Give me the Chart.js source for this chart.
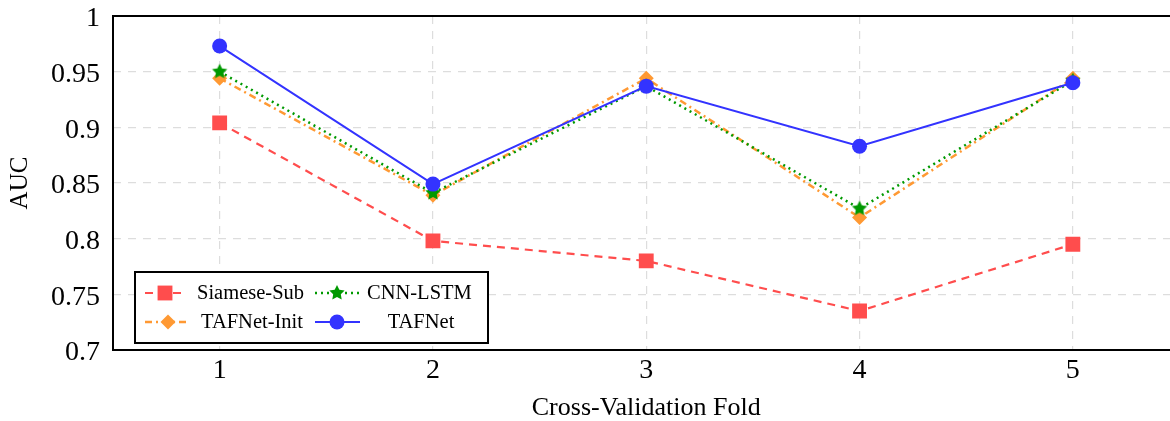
<!DOCTYPE html>
<html>
<head>
<meta charset="utf-8">
<script src="https://cdn.jsdelivr.net/npm/chart.js@4"></script>
<style>
  html, body { margin: 0; padding: 0; background: #fff; overflow: hidden; }
  #wrap { width: 1170px; height: 421px; overflow: hidden; }
</style>
</head>
<body>
<div id="wrap"><canvas id="cv" width="1190" height="421"></canvas></div>
<script>
// data
const folds = [1, 2, 3, 4, 5];
const siameseSub = [0.904, 0.798, 0.780, 0.735, 0.795];
const cnnLstm = [0.950, 0.841, 0.937, 0.827, 0.942];
const tafnetInit = [0.944, 0.839, 0.944, 0.819, 0.944];
const tafnet = [0.973, 0.849, 0.937, 0.883, 0.940];
const yTicks = [0.7, 0.75, 0.8, 0.85, 0.9, 0.95, 1];
const yTickLabels = ['0.7', '0.75', '0.8', '0.85', '0.9', '0.95', '1'];

const serif = "'Liberation Serif', 'Times New Roman', serif";

function starCanvas(color, r) {
    const c = document.createElement('canvas');
    const s = Math.ceil(r * 2 + 2);
    c.width = s; c.height = s;
    const g = c.getContext('2d');
    g.beginPath();
    for (let i = 0; i < 10; i++) {
        const a = -Math.PI / 2 + i * Math.PI / 5;
        const rr = i % 2 === 0 ? r : r * 0.5;
        g.lineTo(s / 2 + rr * Math.cos(a), s / 2 + rr * Math.sin(a));
    }
    g.closePath();
    g.fillStyle = color;
    g.fill();
    return c;
}

const RED = '#ff4d4d', GREEN = '#009900', ORANGE = '#ff9933', BLUE = '#3333ff';

const datasets = [
    {
        label: 'TAFNet', data: tafnet, borderColor: BLUE, backgroundColor: BLUE,
        borderWidth: 2, pointStyle: 'circle', pointRadius: 7.5, pointBorderWidth: 0, order: 0
    },
    {
        label: 'CNN-LSTM', data: cnnLstm, borderColor: GREEN, backgroundColor: GREEN,
        borderWidth: 2.5, borderDash: [2, 4], pointStyle: starCanvas(GREEN, 8), pointRadius: 7, order: 1
    },
    {
        label: 'TAFNet-Init', data: tafnetInit, borderColor: ORANGE, backgroundColor: ORANGE,
        borderWidth: 2.5, borderDash: [7, 4, 2, 4], pointStyle: 'rectRot', pointRadius: 7.5, pointBorderWidth: 0, order: 2
    },
    {
        label: 'Siamese-Sub', data: siameseSub, borderColor: RED, backgroundColor: RED,
        borderWidth: 2.2, borderDash: [8, 6], pointStyle: 'rect', pointRadius: 10.5, pointBorderWidth: 0, order: 3
    }
];

// legend drawn inside the plot, two columns, in a black box
const boxLegend = {
    id: 'boxLegend',
    afterDraw(chart) {
        const ctx = chart.ctx;
        const ds = chart.data.datasets;
        const byLabel = l => ds.find(d => d.label === l);
        const items = [
            { d: byLabel('Siamese-Sub'), x0: 145, x1: 184, mx: 165, tx: 197, y: 293, align: 'left' },
            { d: byLabel('CNN-LSTM'), x0: 315, x1: 360, mx: 337, tx: 367, y: 293, align: 'left' },
            { d: byLabel('TAFNet-Init'), x0: 145, x1: 190, mx: 168, tx: 201, y: 322, align: 'left' },
            { d: byLabel('TAFNet'), x0: 315, x1: 360, mx: 337, tx: 421, y: 322, align: 'center' }
        ];
        ctx.save();
        ctx.fillStyle = '#fff';
        ctx.fillRect(135, 272, 353, 71);
        ctx.lineWidth = 2;
        ctx.strokeStyle = '#000';
        ctx.strokeRect(135, 272, 353, 71);
        items.forEach(it => {
            ctx.save();
            ctx.strokeStyle = it.d.borderColor;
            ctx.lineWidth = it.d.borderWidth;
            ctx.setLineDash(it.d.borderDash || []);
            ctx.beginPath();
            ctx.moveTo(it.x0, it.y);
            ctx.lineTo(it.x1, it.y);
            ctx.stroke();
            ctx.restore();
            ctx.fillStyle = it.d.backgroundColor;
            Chart.helpers.drawPoint(ctx, {
                pointStyle: it.d.pointStyle, radius: it.d.pointRadius, rotation: 0, borderWidth: 0
            }, it.mx, it.y);
            ctx.fillStyle = '#000';
            ctx.font = '20.5px ' + serif;
            ctx.textAlign = it.align;
            ctx.textBaseline = 'middle';
            ctx.fillText(it.d.label, it.tx, it.y + 1);
        });
        ctx.restore();
    }
};

// black frame round the plot area
const frame = {
    id: 'frame',
    beforeDatasetsDraw(chart) {
        const a = chart.chartArea;
        const ctx = chart.ctx;
        ctx.save();
        ctx.lineWidth = 2;
        ctx.strokeStyle = '#000';
        ctx.strokeRect(a.left, a.top, a.right - a.left, a.bottom - a.top);
        ctx.restore();
    }
};

const config = {
    type: 'line',
    data: { labels: folds, datasets: datasets },
    options: {
        responsive: false,
        animation: false,
        layout: { padding: { left: 0, top: 16, right: 9, bottom: 0 } },
        plugins: { legend: { display: false }, tooltip: { enabled: false } },
        scales: {
            x: {
                type: 'linear', min: 0.5, max: 5.5,
                afterBuildTicks: s => { s.ticks = folds.map(v => ({ value: v })); },
                afterFit: s => { s.height = 71; s.paddingLeft = 0; s.paddingRight = 0; },
                grid: { color: '#dddddd', lineWidth: 1.2, drawTicks: false },
                border: { display: false, dash: [8, 7] },
                ticks: { color: '#000', padding: 7, maxRotation: 0, font: { family: serif, size: 28, lineHeight: 1 } },
                title: {
                    display: true, text: 'Cross-Validation Fold', color: '#000',
                    padding: { top: 0, bottom: 0 }, font: { family: serif, size: 26, lineHeight: 1 }
                }
            },
            y: {
                min: 0.7, max: 1,
                afterBuildTicks: s => { s.ticks = yTicks.map(v => ({ value: v })); },
                afterFit: s => { s.width = 113; s.paddingTop = 0; s.paddingBottom = 0; },
                grid: { color: '#dddddd', lineWidth: 1.2, drawTicks: false },
                border: { display: false, dash: [8, 7] },
                ticks: {
                    color: '#000', padding: 13, labelOffset: 3, font: { family: serif, size: 28, lineHeight: 1 },
                    callback: (v, i) => yTickLabels[i]
                },
                title: {
                    display: true, text: 'AUC', color: '#000',
                    padding: { top: 8, bottom: 0 }, font: { family: serif, size: 25, lineHeight: 1 }
                }
            }
        }
    },
    plugins: [frame, boxLegend]
};

const chart = new Chart(document.getElementById('cv'), config);
</script>
</body>
</html>
